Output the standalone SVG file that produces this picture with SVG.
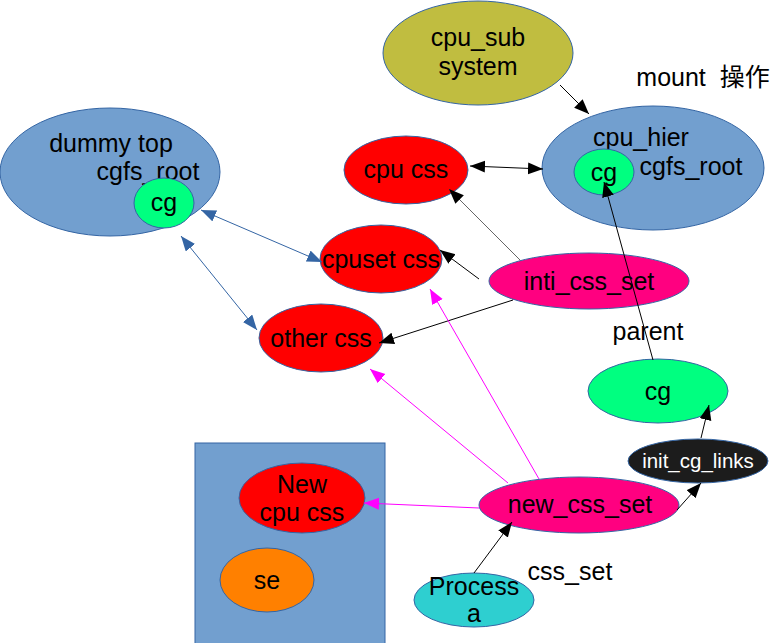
<svg xmlns="http://www.w3.org/2000/svg" width="778" height="643" viewBox="0 0 778 643">
<style>
text{font-family:"Liberation Sans","Noto Sans CJK SC",Arial,sans-serif;font-size:25px;fill:#000;text-anchor:middle}
.st{stroke:#3465a4;stroke-width:1}
.blue{fill:#729fcf}
.red{fill:#ff0000}
.green{fill:#00ff80}
.pink{fill:#ff0080}
.bk{stroke:#000;stroke-width:1;fill:none}
.gr{stroke:#666;stroke-width:1;fill:none}
.mg{stroke:#ff00ff;stroke-width:1;fill:none}
.bl{stroke:#3465a4;stroke-width:1;fill:none}
</style>
<defs>
<marker id="ak" markerUnits="userSpaceOnUse" markerWidth="20" markerHeight="16" refX="15" refY="6" orient="auto-start-reverse"><path d="M0,0 L15,6 L0,12 Z" fill="#000"/></marker>
<marker id="am" markerUnits="userSpaceOnUse" markerWidth="20" markerHeight="16" refX="15" refY="6" orient="auto-start-reverse"><path d="M0,0 L15,6 L0,12 Z" fill="#ff00ff"/></marker>
<marker id="ab" markerUnits="userSpaceOnUse" markerWidth="20" markerHeight="16" refX="15" refY="6" orient="auto-start-reverse"><path d="M0,0 L15,6 L0,12 Z" fill="#3465a4"/></marker>
</defs>

<g id="box"><rect x="195" y="443" width="190" height="210" class="blue st"/></g>

<g id="dummy-top">
<ellipse cx="110" cy="172" rx="110" ry="64" class="blue st"/>
<text x="111" y="152">dummy top</text>
<text x="148" y="180">cgfs_root</text>
</g>
<g id="dummy-cg">
<ellipse cx="164" cy="203" rx="30" ry="25" class="green st"/>
<text x="164" y="211">cg</text>
</g>

<g id="cpu-subsystem">
<ellipse cx="478" cy="53" rx="95" ry="52" fill="#c0bd40" class="st"/>
<text x="478" y="46">cpu_sub</text>
<text x="478" y="75">system</text>
</g>

<g id="mount-label"><text x="703" y="86" xml:space="preserve">mount  操作</text></g>

<g id="cpu-hier">
<ellipse cx="653" cy="168" rx="111" ry="62" class="blue st"/>
<text x="641" y="146">cpu_hier</text>
<text x="691" y="175">cgfs_root</text>
</g>
<g id="hier-cg">
<ellipse cx="604" cy="172" rx="30" ry="23" class="green st"/>
<text x="604" y="181">cg</text>
</g>

<g id="cpu-css">
<ellipse cx="406" cy="170" rx="62" ry="34" class="red st"/>
<text x="406" y="178">cpu css</text>
</g>

<g id="cpuset-css">
<ellipse cx="381" cy="259" rx="61" ry="34" class="red st"/>
<text x="381" y="268">cpuset css</text>
</g>

<g id="other-css">
<ellipse cx="321" cy="338" rx="62" ry="34" class="red st"/>
<text x="321" y="347">other css</text>
</g>

<g id="inti-css-set">
<ellipse cx="589" cy="281" rx="100" ry="28" class="pink st"/>
<text x="589" y="290">inti_css_set</text>
</g>

<g id="parent-label"><text x="648" y="340">parent</text></g>

<g id="cg">
<ellipse cx="658" cy="391" rx="70" ry="32" class="green st"/>
<text x="658" y="400">cg</text>
</g>

<g id="init-cg-links">
<ellipse cx="698" cy="461" rx="70" ry="22" fill="#1c1c1c" class="st"/>
<text x="698" y="468" style="font-size:20.5px;fill:#fff">init_cg_links</text>
</g>

<g id="new-css-set">
<ellipse cx="579" cy="505" rx="100" ry="28" class="pink st"/>
<text x="580" y="513">new_css_set</text>
</g>

<g id="new-cpu-css">
<ellipse cx="302" cy="498" rx="63" ry="35" class="red st"/>
<text x="302" y="493">New</text>
<text x="302" y="521">cpu css</text>
</g>

<g id="se">
<ellipse cx="267" cy="580" rx="47" ry="32" fill="#ff8000" class="st"/>
<text x="267" y="589">se</text>
</g>

<g id="process-a">
<ellipse cx="474" cy="600" rx="60" ry="27" fill="#2ecfd0" class="st"/>
<text x="474" y="595">Process</text>
<text x="474" y="622">a</text>
</g>

<g id="css-set-label"><text x="570" y="580">css_set</text></g>

<g id="connectors">
<line x1="560" y1="85" x2="589" y2="114" class="bk" marker-end="url(#ak)"/>
<line x1="470" y1="166" x2="543" y2="169" class="bk" marker-start="url(#ak)" marker-end="url(#ak)"/>
<line x1="520" y1="260" x2="449" y2="189" class="gr" marker-end="url(#ak)"/>
<line x1="479" y1="279" x2="440" y2="250" class="bk" marker-end="url(#ak)"/>
<line x1="513" y1="300" x2="379" y2="343" class="bk" marker-end="url(#ak)"/>
<line x1="653" y1="360" x2="604" y2="182" class="bk" marker-end="url(#ak)"/>
<line x1="701" y1="438" x2="709" y2="405" class="bk" marker-end="url(#ak)"/>
<line x1="677" y1="510" x2="701" y2="483" class="bk" marker-end="url(#ak)"/>
<line x1="474" y1="573" x2="512" y2="522" class="bk" marker-end="url(#ak)"/>
<line x1="479" y1="508" x2="364" y2="503" class="mg" marker-end="url(#am)"/>
<line x1="508" y1="483" x2="370" y2="369" class="mg" marker-end="url(#am)"/>
<line x1="539" y1="479" x2="430" y2="289" class="mg" marker-end="url(#am)"/>
<line x1="201" y1="210" x2="322" y2="262" class="bl" marker-start="url(#ab)" marker-end="url(#ab)"/>
<line x1="181" y1="236" x2="257" y2="330" class="bl" marker-start="url(#ab)" marker-end="url(#ab)"/>
</g>
</svg>
